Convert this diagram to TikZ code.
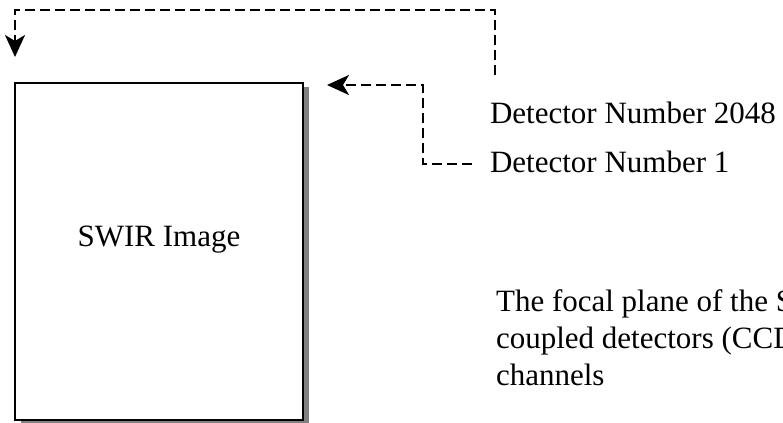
\documentclass[tikz,border=0pt]{standalone}
\usepackage{fontspec}
\setmainfont{Liberation Serif}
\usetikzlibrary{arrows.meta,shadows,positioning}

\begin{document}
\begin{tikzpicture}[x=0.5pt,y=-0.5pt,
    font=\fontsize{15.5}{14.5}\selectfont,
    imgbox/.style={draw,line width=1.3pt,fill=white,inner sep=0pt,
      minimum width=144pt,minimum height=168.5pt,
      drop shadow={shadow xshift=2.8pt,shadow yshift=-2.2pt,fill=gray,opacity=1}},
    scanline/.style={line width=1.3pt,dash pattern=on 5pt off 2.5pt,
      -{Stealth[length=11pt,width=10pt,inset=3pt]}}]
        \useasboundingbox (0,0) rectangle (783,423);
        \clip (0,0) rectangle (783,423);
        % Image box
        \node[imgbox] (swir) at (159,251.5) {};
        \node (swirtext) at ([yshift=6pt]swir.center) {SWIR Image};
        % Detector labels
        \node[anchor=base west] (det2048) at (483,123) {Detector Number 2048};
        \node[anchor=base west] (det1) at (483,172) {Detector Number 1};
        % Focal plane text
        \node[anchor=north west,align=left] (focal) at (489,283)
          {The focal plane of the S\\[3.8pt]coupled detectors (CCD\\[3.8pt]channels};
        % Scan arrows
        \coordinate (top2048) at (495,75);
        \coordinate (tip2048) at (15,57);
        \coordinate (from1) at (472,164);
        \coordinate (tip1) at (327,85);
        \draw[scanline] (top2048) -- ++(0,-65) -| (tip2048);
        \draw[scanline] (from1) -- ++(-49,0) |- (tip1);
    \end{tikzpicture}
\end{document}
